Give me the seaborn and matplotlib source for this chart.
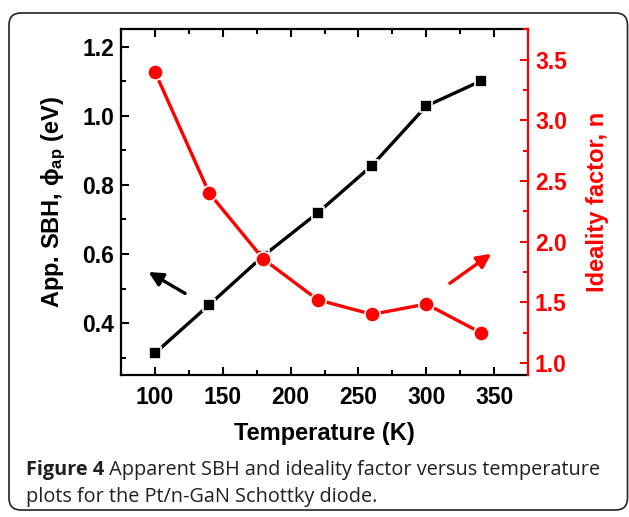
import numpy as np
import pandas as pd
import seaborn as sns
import matplotlib.pyplot as plt
from matplotlib.patches import FancyBboxPatch
from matplotlib.ticker import MultipleLocator

# data
temperature = [100, 140, 180, 220, 260, 300, 340]
sbh = [0.313, 0.453, 0.595, 0.719, 0.856, 1.028, 1.100]
ideality = [3.40, 2.40, 1.855, 1.52, 1.40, 1.485, 1.25]

x_ticks = [100, 150, 200, 250, 300, 350]
sbh_ticks = [0.4, 0.6, 0.8, 1.0, 1.2]
n_ticks = [1.0, 1.5, 2.0, 2.5, 3.0, 3.5]

caption_bold = "Figure 4"
caption_line1 = " Apparent SBH and ideality factor versus temperature"
caption_line2 = "plots for the Pt/n-GaN Schottky diode."

df = pd.DataFrame({"T": temperature, "sbh": sbh, "n": ideality})

sns.set_theme(style="ticks")
plt.rcParams["font.family"] = ["Liberation Sans", "DejaVu Sans"]
plt.rcParams["font.weight"] = "bold"
plt.rcParams["text.color"] = "black"
plt.rcParams["axes.labelcolor"] = "black"
plt.rcParams["axes.edgecolor"] = "black"
plt.rcParams["xtick.color"] = "black"
plt.rcParams["ytick.color"] = "black"
plt.rcParams["mathtext.fontset"] = "custom"
plt.rcParams["mathtext.rm"] = "Liberation Sans:bold"
plt.rcParams["mathtext.bf"] = "Liberation Sans:bold"
plt.rcParams["mathtext.it"] = "Liberation Sans:bold"

fig = plt.figure(figsize=(6.29, 5.17), dpi=100)
W, H = 629, 517
ax = fig.add_axes([121 / W, 1 - 375 / H, (528 - 121) / W, (375 - 29.3) / H])
ax2 = ax.twinx()

sns.lineplot(data=df, x="T", y="sbh", ax=ax, color="black", marker="s",
             markersize=9, markeredgecolor="white", markeredgewidth=1.2,
             linewidth=2.4)
sns.lineplot(data=df, x="T", y="n", ax=ax2, color="red", marker="o",
             markersize=11, markeredgecolor="white", markeredgewidth=1.2,
             linewidth=2.4)

ax.set_xlim(75, 375)
ax.set_ylim(0.25, 1.25)
ax2.set_ylim(0.9, 3.75)
ax.set_xticks(x_ticks)
ax.set_yticks(sbh_ticks)
ax2.set_yticks(n_ticks)
ax.xaxis.set_minor_locator(MultipleLocator(25))
ax.yaxis.set_minor_locator(MultipleLocator(0.1))
ax2.yaxis.set_minor_locator(MultipleLocator(0.25))
ax.set_yticklabels([f"{v:.1f}" for v in sbh_ticks])
ax2.set_yticklabels([f"{v:.1f}" for v in n_ticks])

ax.tick_params(axis="both", which="major", direction="in", length=6, width=1.5,
               labelsize=16.5, pad=5)
ax.tick_params(axis="x", which="major", pad=8)
ax.tick_params(axis="both", which="minor", direction="in", length=3.5, width=1.5)
ax.tick_params(axis="x", top=True, which="both")
ax.tick_params(axis="y", right=False, which="both")
ax2.tick_params(axis="y", which="major", direction="in", length=6, width=1.5,
                labelsize=16.5, colors="red", pad=5)
ax2.tick_params(axis="y", which="minor", direction="in", length=3.5, width=1.5,
                colors="red")
for s in ["left", "bottom", "top"]:
    ax.spines[s].set_linewidth(1.6)
    ax.spines[s].set_color("black")
ax2.spines["right"].set_linewidth(1.6)
ax2.spines["right"].set_color("red")
ax2.spines["left"].set_visible(False)
ax2.spines["top"].set_visible(False)
ax2.spines["bottom"].set_visible(False)
ax.spines["right"].set_visible(False)

ax.set_xlabel("Temperature (K)", fontsize=17, fontweight="bold", labelpad=9)
ax.set_ylabel("App. SBH, ϕ$_{ap}$ (eV)", fontsize=17, fontweight="bold",
              labelpad=10)
ax2.set_ylabel("Ideality factor, n", fontsize=17, fontweight="bold",
               color="red", labelpad=14)

ax.annotate("", xy=(93.5, 0.552), xytext=(124, 0.482),
            arrowprops=dict(arrowstyle="-|>", color="black", lw=2.4,
                            mutation_scale=21))
ax2.annotate("", xy=(349.5, 1.912), xytext=(315.7, 1.643),
             arrowprops=dict(arrowstyle="-|>", color="red", lw=2.4,
                             mutation_scale=21))

# rounded frame around figure + caption (pixel coordinates)
frame = FancyBboxPatch((9, 7), 618.5, 497,
                       boxstyle="round,pad=0,rounding_size=12",
                       transform=None, facecolor="none", edgecolor="#222222",
                       linewidth=1.2)
fig.patches.append(frame)

cap_size = 14.3
t1 = fig.text(26 / W, 1 - 470 / H, caption_bold, fontsize=cap_size,
              fontweight="bold", family=["Open Sans", "DejaVu Sans"],
              color="#231f20", va="center", ha="left")
fig.canvas.draw()
bb = t1.get_window_extent()
t2 = fig.text(bb.x1 / W, 1 - 470 / H, caption_line1, fontsize=cap_size,
              fontweight="normal", family=["Open Sans", "DejaVu Sans"],
              color="#231f20", va="center", ha="left")
t3 = fig.text(26 / W, 1 - 497 / H, caption_line2, fontsize=cap_size,
              fontweight="normal", family=["Open Sans", "DejaVu Sans"],
              color="#231f20", va="center", ha="left")

fig.savefig("out.png", dpi=100)
